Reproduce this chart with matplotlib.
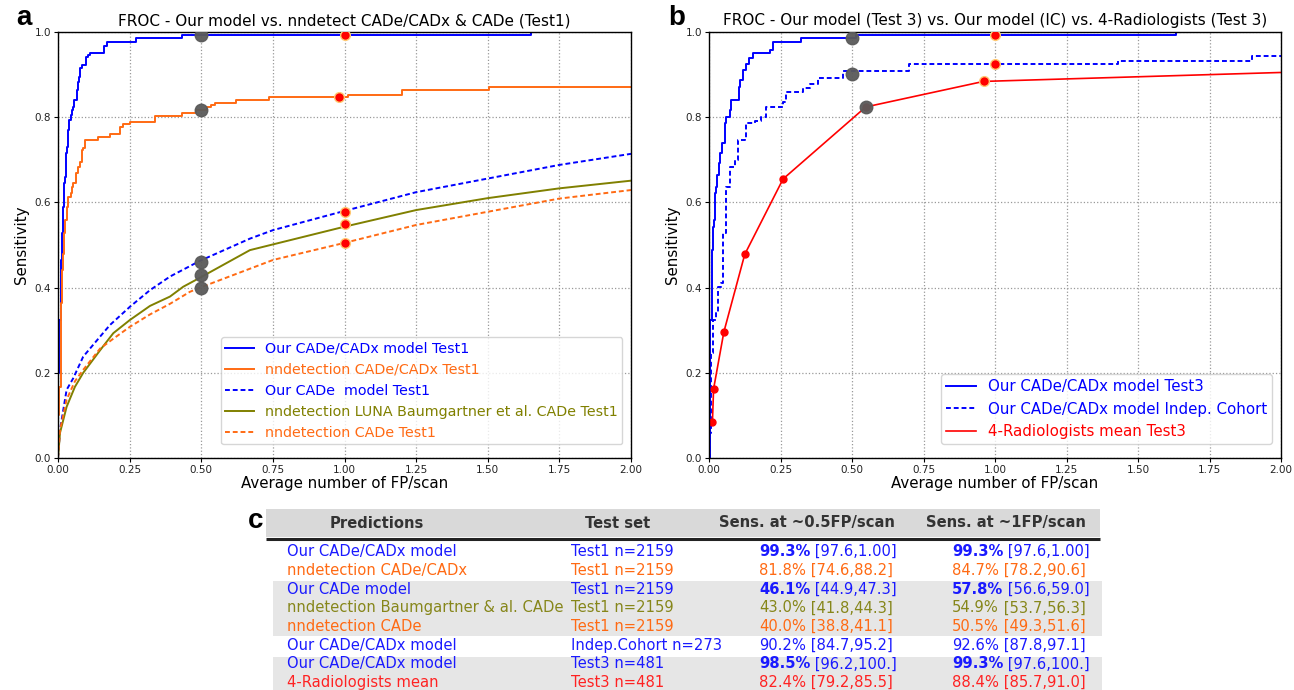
import numpy as np
import matplotlib.pyplot as plt
from matplotlib.patches import Rectangle

BLUE = "#0000ff"
ORANGE = "#ff6a13"
OLIVE = "#808000"
RED = "#ff0000"
GREY = "#5a5a5a"

# ---- panel a : Test1 FROC curves
a_cadx_fp = [0.0, 0.001, 0.005, 0.009, 0.013, 0.016, 0.021, 0.024, 0.027, 0.033, 0.036, 0.040,
             0.044, 0.050, 0.054, 0.056, 0.065, 0.069, 0.073, 0.077, 0.083, 0.098, 0.106, 0.112,
             0.162, 0.170, 0.272, 0.432, 1.652, 2.0]
a_cadx_se = [0.0, 0.20, 0.324, 0.465, 0.527, 0.59, 0.645, 0.66, 0.715, 0.731, 0.77, 0.793,
             0.805, 0.817, 0.825, 0.84, 0.864, 0.883, 0.895, 0.915, 0.923, 0.942, 0.946, 0.951,
             0.966, 0.977, 0.985, 0.993, 1.0, 1.0]

a_nncadx_fp = [0.0, 0.001, 0.005, 0.009, 0.013, 0.016, 0.021, 0.024, 0.030, 0.036, 0.044, 0.048,
               0.054, 0.063, 0.071, 0.077, 0.083, 0.089, 0.094, 0.141, 0.181, 0.216, 0.228, 0.251,
               0.338, 0.432, 0.483, 0.519, 0.533, 0.548, 0.620, 0.736, 1.012, 1.200, 1.504, 2.0]
a_nncadx_se = [0.0, 0.10, 0.167, 0.363, 0.441, 0.48, 0.527, 0.559, 0.59, 0.613, 0.621, 0.637,
               0.645, 0.668, 0.684, 0.696, 0.723, 0.727, 0.746, 0.754, 0.76, 0.778, 0.784, 0.789,
               0.803, 0.809, 0.818, 0.823, 0.828, 0.834, 0.84, 0.848, 0.853, 0.863, 0.87, 0.87]

a_cade_fp = [0, 0.007, 0.03, 0.053, 0.088, 0.147, 0.181, 0.251, 0.321, 0.391, 0.496, 0.67,
             0.751, 1.0, 1.25, 1.5, 1.75, 2.0]
a_cade_se = [0, 0.066, 0.16, 0.187, 0.238, 0.285, 0.312, 0.355, 0.394, 0.426, 0.463, 0.515,
             0.535, 0.58, 0.624, 0.656, 0.688, 0.714]

a_luna_fp = [0, 0.007, 0.03, 0.059, 0.088, 0.147, 0.193, 0.251, 0.321, 0.391, 0.437, 0.495,
             0.67, 1.0, 1.25, 1.5, 1.75, 2.0]
a_luna_se = [0, 0.059, 0.12, 0.167, 0.2, 0.253, 0.293, 0.324, 0.357, 0.379, 0.402, 0.423,
             0.488, 0.543, 0.582, 0.61, 0.633, 0.651]

a_nncade_fp = [0, 0.007, 0.03, 0.059, 0.088, 0.147, 0.193, 0.251, 0.321, 0.391, 0.46, 0.5,
               0.751, 1.0, 1.25, 1.5, 1.75, 2.0]
a_nncade_se = [0, 0.066, 0.137, 0.18, 0.207, 0.257, 0.28, 0.308, 0.337, 0.362, 0.39, 0.401,
               0.465, 0.505, 0.547, 0.578, 0.609, 0.629]

a_grey_fp = [0.5, 0.5, 0.5, 0.5, 0.5]
a_grey_se = [0.993, 0.818, 0.461, 0.430, 0.400]
a_red_fp = [1.0, 0.98, 1.0, 1.0, 1.0]
a_red_se = [0.993, 0.847, 0.578, 0.549, 0.505]

# ---- panel b : Test3 / independent cohort / radiologists
b_t3_fp = [0.0, 0.004, 0.005, 0.009, 0.012, 0.014, 0.016, 0.021, 0.023, 0.029, 0.034, 0.040,
           0.047, 0.055, 0.061, 0.072, 0.078, 0.105, 0.110, 0.119, 0.130, 0.140, 0.154, 0.212,
           0.224, 0.320, 0.515, 1.634, 2.0]
b_t3_se = [0.0, 0.246, 0.324, 0.48, 0.488, 0.542, 0.559, 0.621, 0.637, 0.665, 0.692, 0.715,
           0.739, 0.786, 0.801, 0.818, 0.84, 0.872, 0.887, 0.911, 0.926, 0.938, 0.95, 0.957,
           0.977, 0.985, 0.993, 1.0, 1.0]

b_ic_fp = [0.0, 0.002, 0.008, 0.014, 0.026, 0.031, 0.041, 0.049, 0.061, 0.072, 0.090, 0.101,
           0.125, 0.131, 0.160, 0.183, 0.200, 0.259, 0.270, 0.329, 0.352, 0.381, 0.47, 0.70,
           1.43, 1.90, 2.0]
b_ic_se = [0.0, 0.058, 0.246, 0.324, 0.34, 0.402, 0.41, 0.527, 0.637, 0.684, 0.70, 0.746,
           0.75, 0.786, 0.79, 0.80, 0.825, 0.836, 0.86, 0.868, 0.879, 0.893, 0.909, 0.926,
           0.933, 0.943, 0.943]

b_rad_fp = [0.012, 0.016, 0.052, 0.125, 0.259, 0.548, 0.96, 2.0]
b_rad_se = [0.085, 0.162, 0.296, 0.478, 0.655, 0.824, 0.884, 0.905]

b_grey_fp = [0.5, 0.5, 0.548]
b_grey_se = [0.985, 0.902, 0.824]
b_red_fp = [1.0, 1.0, 0.96]
b_red_se = [0.993, 0.926, 0.884]

# ---- panel c : table
tab_header = ["Predictions", "Test set", "Sens. at ~0.5FP/scan", "Sens. at ~1FP/scan"]
tab_pred = ["Our CADe/CADx model", "nndetection CADe/CADx", "Our CADe model",
            "nndetection Baumgartner & al. CADe", "nndetection CADe", "Our CADe/CADx model",
            "Our CADe/CADx model", "4-Radiologists mean"]
tab_set = ["Test1 n=2159", "Test1 n=2159", "Test1 n=2159", "Test1 n=2159", "Test1 n=2159",
           "Indep.Cohort n=273", "Test3 n=481", "Test3 n=481"]
sens05 = ["99.3%", "81.8%", "46.1%", "43.0%", "40.0%", "90.2%", "98.5%", "82.4%"]
ci05 = ["[97.6,1.00]", "[74.6,88.2]", "[44.9,47.3]", "[41.8,44.3]", "[38.8,41.1]",
        "[84.7,95.2]", "[96.2,100.]", "[79.2,85.5]"]
sens1 = ["99.3%", "84.7%", "57.8%", "54.9%", "50.5%", "92.6%", "99.3%", "88.4%"]
ci1 = ["[97.6,1.00]", "[78.2,90.6]", "[56.6,59.0]", "[53.7,56.3]", "[49.3,51.6]",
       "[87.8,97.1]", "[97.6,100.]", "[85.7,91.0]"]
row_bold = [True, False, True, False, False, False, True, False]
row_color = ["#1a1aff", "#ff6a13", "#1a1aff", "#86861a", "#ff6a13", "#1a1aff", "#1a1aff", "#ff2222"]


fig = plt.figure(figsize=(12.94, 6.9), dpi=100)
W, H = 1294, 690


def setup(ax, title):
    ax.set_xlim(0, 2)
    ax.set_ylim(0, 1)
    ax.set_xticks(np.arange(0, 2.01, 0.25))
    ax.set_yticks(np.arange(0, 1.01, 0.2))
    ax.set_xticklabels(["%.2f" % v for v in np.arange(0, 2.01, 0.25)])
    ax.set_yticklabels(["%.1f" % v for v in np.arange(0, 1.01, 0.2)])
    ax.tick_params(length=3, width=0.8, pad=2, labelsize=7.5, labelcolor="#222222")
    ax.grid(True, linestyle=":", color="#999999", lw=0.9)
    ax.set_title(title, fontsize=11, pad=5)
    ax.set_xlabel("Average number of FP/scan", fontsize=10.8, labelpad=1)
    ax.set_ylabel("Sensitivity", fontsize=10.8, labelpad=4)
    for s in ax.spines.values():
        s.set_linewidth(1.0)


def marks(ax, gx, gy, rx, ry):
    ax.plot(gx, gy, "o", color=GREY, ms=9, zorder=4, alpha=0.95)
    ax.plot(rx, ry, "o", color=RED, ms=7, mec="#ffc870", mew=1.0, zorder=5)


ax1 = fig.add_axes([58 / W, 1 - 458 / H, 573 / W, 426 / H])
setup(ax1, "FROC - Our model vs. nndetect CADe/CADx & CADe (Test1)")
ax1.plot(a_cadx_fp, a_cadx_se, color=BLUE, lw=1.4, drawstyle="steps-post", label="Our CADe/CADx model Test1")
ax1.plot(a_nncadx_fp, a_nncadx_se, color=ORANGE, lw=1.4, drawstyle="steps-post", label="nndetection CADe/CADx Test1")
ax1.plot(a_cade_fp, a_cade_se, color=BLUE, lw=1.4, ls=(0, (2.5, 1.5)), label="Our CADe  model Test1")
ax1.plot(a_luna_fp, a_luna_se, color=OLIVE, lw=1.4, label="nndetection LUNA Baumgartner et al. CADe Test1")
ax1.plot(a_nncade_fp, a_nncade_se, color=ORANGE, lw=1.4, ls=(0, (2.5, 1.5)), label="nndetection CADe Test1")
marks(ax1, a_grey_fp, a_grey_se, a_red_fp, a_red_se)
ax1.legend(loc="lower right", bbox_to_anchor=(0.99, 0.025), fontsize=10.3, labelcolor="linecolor",
           handlelength=2.0, borderaxespad=0.2, borderpad=0.3, framealpha=0.8)

ax2 = fig.add_axes([709 / W, 1 - 458 / H, 572 / W, 426 / H])
setup(ax2, "FROC - Our model (Test 3) vs. Our model (IC) vs. 4-Radiologists (Test 3)")
ax2.plot(b_t3_fp, b_t3_se, color=BLUE, lw=1.4, drawstyle="steps-post", label="Our CADe/CADx model Test3")
ax2.plot(b_ic_fp, b_ic_se, color=BLUE, lw=1.4, ls=(0, (2.5, 1.5)), drawstyle="steps-post",
         label="Our CADe/CADx model Indep. Cohort")
ax2.plot(b_rad_fp, b_rad_se, color=RED, lw=1.2, marker="o", ms=5, markevery=slice(0, len(b_rad_fp) - 1),
         label="4-Radiologists mean Test3")
marks(ax2, b_grey_fp, b_grey_se, b_red_fp, b_red_se)
ax2.legend(loc="lower right", bbox_to_anchor=(0.99, 0.025), fontsize=10.8, labelcolor="linecolor",
           handlelength=2.0, borderaxespad=0.2, borderpad=0.35, framealpha=0.8, markerscale=0)

fig.text(16 / W, 1 - 18 / H, "a", fontsize=20, fontweight="bold", family="Liberation Sans", va="center")
fig.text(668 / W, 1 - 18 / H, "b", fontsize=20, fontweight="bold", family="Liberation Sans", va="center")
fig.text(248 / W, 1 - 521 / H, "c", fontsize=20, fontweight="bold", family="Liberation Sans", va="center")

# table drawn in pixel coordinates
axt = fig.add_axes([0, 0, 1, 1])
axt.set_xlim(0, W)
axt.set_ylim(H, 0)
axt.axis("off")
axt.add_patch(Rectangle((266, 509), 834, 28, color="#d9d9d9", lw=0))
axt.plot([266, 1100], [538.8, 538.8], color="#222222", lw=2.2, solid_capstyle="butt")
axt.add_patch(Rectangle((273, 580.5), 829, 55.5, color="#e6e6e6", lw=0))
axt.add_patch(Rectangle((273, 656.5), 829, 34, color="#e6e6e6", lw=0))

head_x = [377, 618, 807, 1006]
for x, h in zip(head_x, tab_header):
    axt.text(x, 523, h, ha="center", va="center", fontsize=10.6, fontweight="bold", color="#333333")

col_x = [287, 571, 759, 952]
for i in range(len(tab_pred)):
    y = 551.7 + i * 18.7
    c = row_color[i]
    axt.text(col_x[0], y, tab_pred[i], ha="left", va="center", fontsize=10.6, color=c)
    axt.text(col_x[1], y, tab_set[i], ha="left", va="center", fontsize=10.6, color=c)
    for x, s, ci in [(col_x[2], sens05[i], ci05[i]), (col_x[3], sens1[i], ci1[i])]:
        t = axt.text(x, y, s, ha="left", va="center", fontsize=10.6, color=c,
                     fontweight="bold" if row_bold[i] else "normal")
        axt.annotate(" " + ci, xy=(1, 0.5), xycoords=t, ha="left", va="center",
                     fontsize=10.6, color=c)

fig.savefig("out.png", dpi=100)
